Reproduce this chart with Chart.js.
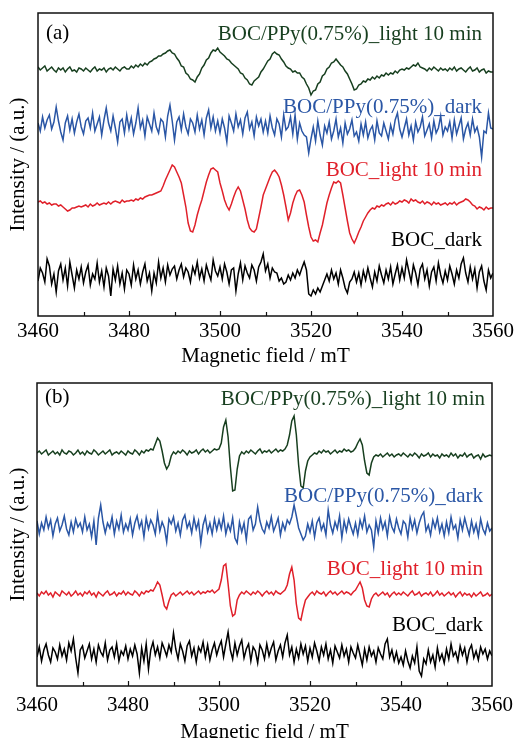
<!DOCTYPE html>
<html><head><meta charset="utf-8">
<script src="https://cdn.jsdelivr.net/npm/chart.js@4.4.1/dist/chart.umd.min.js"></script>
<style>
html,body{margin:0;padding:0;background:#fff;}
#wrap{position:relative;width:520px;height:738px;overflow:hidden;background:#fff;}
canvas{position:absolute;left:0;}
</style></head><body>
<div id="wrap">
<canvas id="ca" width="520" height="369" style="top:0px"></canvas>
<canvas id="cb" width="520" height="376" style="top:369px"></canvas>
</div>
<script>
// Magnetic field grid (mT), uniformly sampled spectrum
const fieldStart = 3460, fieldStep = 0.5, fieldCount = 201;
const field = Array.from({length: fieldCount}, (_, i) => fieldStart + i * fieldStep);
const xTickLabels = [3460, 3480, 3500, 3520, 3540, 3560];
const seriesNames = ['BOC/PPy(0.75%)_light 10 min', 'BOC/PPy(0.75%)_dark', 'BOC_light 10 min', 'BOC_dark'];
const seriesColors = ['#173f1f', '#2a56a5', '#e0202a', '#000000'];
// vertical stacking offsets (a.u.)
const offsetsA = [246, 191, 113, 40];
const offsetsB = [233, 160, 92, 33];

// ---- Panel (a) ----
const aGreen = [
3,0,2,4,-1,1,3,0,-2,2,0,2,-2,1,3,-1,0,-2,2,1,
-1,2,0,-2,1,3,-1,1,0,2,-2,1,2,0,3,1,-1,2,3,1,
1,4,2,5,3,6,4,7,5,8,9,11,12,14,14,16,17,19,20,17,
16,12,9,4,3,-3,-5,-9,-10,-12,-7,-4,2,5,10,12,17,20,19,22,
18,16,14,11,10,7,5,3,1,-3,-4,-8,-10,-14,-15,-11,-9,-7,-2,1,
5,9,11,16,18,16,15,11,8,4,2,1,-2,-1,-3,-3,-7,-9,-14,-18,
-25,-21,-20,-14,-12,-6,-4,1,3,7,8,11,8,5,3,-1,-4,-9,-14,-20,
-19,-15,-14,-11,-12,-9,-10,-7,-9,-6,-8,-5,-6,-3,-5,-3,-4,-1,-3,0,
1,0,2,1,3,5,4,7,3,2,1,-1,2,0,3,1,-1,2,0,1,
-1,2,0,3,-1,1,2,0,-2,1,3,-1,0,2,-2,0,1,-3,-1,-2,
-2];
const aBlue = [
2,-6,8,-3,5,10,-4,3,18,4,-7,-15,2,9,-5,6,-8,3,11,-2,
-9,4,7,-3,12,-6,1,8,-10,5,17,2,-6,9,-3,-17,3,6,-8,10,
-4,7,-9,2,17,-3,5,-11,8,1,-6,12,-2,-8,6,3,-12,9,20,4,
-15,3,8,-5,11,-2,-9,6,2,-7,10,-4,5,-10,7,15,-3,8,-6,4,
-8,6,-3,-17,9,2,-6,11,-2,5,-9,7,13,-4,3,-11,8,-1,6,-7,
4,-8,9,-3,-10,6,1,-12,10,-5,-2,8,-9,10,-14,2,-6,-10,-12,-28,
-14,-2,-16,4,-10,-20,-1,-8,3,-14,-6,6,-12,-3,-18,2,-9,-4,5,-11,
-7,-16,1,-10,3,-13,-5,-1,-15,4,-8,-11,2,-6,-14,0,-9,5,12,-4,
-12,-3,6,-10,-1,-15,3,-7,-2,8,-11,-5,1,-13,4,-8,-3,9,-10,-2,
-6,3,-13,5,-9,-1,7,-14,-4,2,-10,6,-7,-2,-12,-32,-6,-8,12,-3,
-4];
const aRed = [
1,2,0,1,-1,0,-2,-1,-1,-3,-2,-4,-6,-8,-7,-5,-5,-4,-3,-4,
-3,-2,-4,-1,-3,-2,0,-2,-1,0,-1,1,-1,1,2,1,0,3,1,2,
2,3,2,4,3,5,4,6,7,8,8,9,10,11,12,17,23,28,33,38,
36,31,26,20,8,-4,-20,-28,-29,-22,-12,-4,3,12,21,28,34,35,33,31,
20,12,3,-3,-7,-1,6,12,16,12,3,-6,-17,-25,-28,-29,-26,-15,-4,8,
14,20,26,31,33,30,26,18,8,-4,-17,-10,0,7,12,13,8,1,-12,-24,
-34,-38,-37,-39,-30,-22,-11,0,8,15,21,20,22,20,8,-5,-18,-30,-36,-40,
-35,-29,-24,-18,-14,-10,-7,-5,-6,-3,-4,-2,-3,-1,0,-2,1,-1,0,2,
1,3,2,0,4,2,3,1,0,2,-1,1,0,-2,1,-1,0,-2,-1,0,
-2,0,-1,1,-2,0,1,2,4,3,1,-2,-3,-6,-4,-5,-7,-4,-6,-5,
-5];
const aBlack = [
-5,8,3,-6,17,10,-8,2,-16,5,12,-4,8,-10,14,1,-12,6,-3,9,
-7,4,11,-9,2,-3,13,-6,5,-11,8,0,-20,7,-4,10,-8,3,-13,6,
2,-9,11,-3,6,-8,4,12,-5,3,-15,3,-7,14,-2,8,-6,11,1,7,
10,-3,6,12,-1,8,4,-6,9,2,14,-2,7,-5,11,3,-4,16,5,0,
9,-3,12,4,-8,6,8,-15,2,13,-4,10,3,-2,11,6,-5,9,14,22,
5,12,-2,8,4,3,-5,-2,-8,-6,1,-4,3,-2,6,1,8,14,6,-18,
-20,-14,-18,-12,-16,-10,-4,2,-5,6,-3,3,-8,6,-2,-12,-17,-6,-3,4,
-6,3,-9,5,-4,8,-2,-11,4,-5,10,1,-7,6,-3,9,-8,2,11,-4,
8,-2,16,5,-6,11,3,-9,7,12,-3,6,-10,4,9,-5,13,1,-7,5,
-4,10,2,-8,6,-2,12,18,3,-6,9,-3,7,-12,4,10,-5,-14,6,-2,
3];

// ---- Panel (b) ----
const bGreen = [
0,2,-1,1,3,-2,0,2,-1,1,-2,3,0,-1,2,1,-2,0,3,-1,
1,-2,2,0,-1,3,1,-2,0,2,-1,1,3,-2,0,1,-1,2,0,-2,
2,0,-1,3,1,-2,2,0,3,2,4,3,9,15,12,2,-10,-16,-12,-3,
1,-1,2,0,3,1,-2,2,0,1,3,-1,2,4,1,3,0,2,4,3,
4,10,26,33,16,-14,-38,-37,-16,-3,1,-1,2,0,3,1,-1,2,4,0,
2,1,3,0,2,4,1,3,2,4,8,18,32,37,18,-12,-33,-35,-18,-8,
-4,-2,0,-1,2,0,3,1,2,-1,1,3,0,2,1,4,2,3,1,2,
5,10,14,8,-8,-20,-22,-10,-4,-2,-3,-1,-4,-2,0,-3,-1,-4,-2,-1,
-3,0,-2,-4,-1,-3,0,-2,-5,-1,-3,-2,0,-4,-1,-3,-2,-5,-1,-3,
-2,-4,0,-3,-1,-5,-2,-3,0,-4,-2,-1,-5,-3,-2,-6,-1,-4,-3,-2,
-3];
const bBlue = [
5,-8,3,-4,9,-2,6,-10,2,8,-5,1,10,-3,-9,4,-6,7,-1,3,
-6,9,-4,2,-11,5,-19,8,21,4,-7,3,-2,9,-8,5,-3,11,-6,2,
-4,7,-9,3,10,-2,5,-11,8,-3,6,1,-8,12,-5,4,-2,-16,7,2,
9,-5,3,-9,6,11,-2,4,-7,8,-3,5,-17,1,9,-6,3,-8,7,-4,
6,-3,10,-8,2,-5,8,-12,-17,4,-6,3,-14,7,10,-4,2,19,5,-3,
-7,4,-2,9,-5,1,8,-9,3,-4,6,2,9,21,10,-2,-8,-14,-10,2,
-6,5,-11,3,8,-4,2,-9,16,1,-7,4,-3,10,-12,5,-5,7,-1,-8,
3,-9,6,-2,10,-6,1,-4,-21,5,-7,8,-3,4,-10,9,-1,-6,7,-2,
-8,5,2,-11,8,-3,6,-7,3,10,14,-5,1,-9,6,-2,8,-6,2,-10,
4,-7,9,-3,1,-12,6,-4,8,-1,-9,5,-6,2,-10,7,-3,-8,3,-5,
-2];
const bRed = [
1,-2,2,0,3,-1,1,-3,2,0,-2,3,1,-1,2,-2,0,3,-1,1,
-2,2,0,3,-1,1,-3,2,0,-2,1,3,-1,0,2,-2,1,0,3,-1,
2,0,-1,3,1,-2,2,0,3,2,4,3,7,12,9,-1,-12,-15,-7,-1,
1,-2,0,2,-1,1,3,0,2,-1,1,3,0,2,1,3,2,4,1,3,
5,14,28,30,10,-12,-22,-20,-6,-1,2,0,3,1,-1,2,0,3,1,-2,
1,3,0,2,-1,3,1,0,2,4,9,20,27,14,-10,-24,-26,-15,-6,-3,
0,2,-1,3,1,0,2,-2,1,3,0,2,-1,1,3,0,2,1,-1,2,
4,8,12,6,-6,-12,-13,-5,-1,1,-2,0,2,-1,1,-3,0,2,-1,1,
-1,2,0,-2,1,3,-1,0,2,-2,0,1,-1,2,-2,0,3,-1,1,-2,
0,2,-1,1,-3,0,2,-2,1,-1,0,-3,1,-2,0,2,-2,-1,1,-2,
0];
const bBlack = [
-4,6,-8,3,9,-2,-9,5,1,-6,8,-3,4,-7,10,2,14,-5,-20,3,
7,-5,2,9,-6,4,-9,8,1,-3,10,-7,3,6,-4,9,-8,2,-2,7,
-6,4,-3,8,-1,-20,5,-8,9,-16,3,11,-2,6,-5,10,4,-3,8,1,
20,4,-6,9,2,-8,7,12,-3,5,-9,6,1,11,-4,8,-7,3,10,-2,
6,12,-4,9,21,3,-6,10,-2,7,13,-5,4,9,-8,6,2,-10,8,3,
-6,9,-3,5,11,-7,2,8,-4,10,18,-2,6,-9,4,-5,9,-1,7,-8,
5,-4,10,2,-8,6,-2,9,-6,3,-10,7,1,-5,8,-3,4,-9,6,0,
-5,8,-2,-12,4,-7,6,-3,2,-9,5,-1,-6,9,14,-4,3,-8,1,-10,
-4,-12,2,-8,-15,-3,-10,6,-18,-23,-6,-11,3,-9,-2,-14,5,-7,-1,-10,
4,-6,9,-3,1,-8,7,-2,5,-9,3,8,-5,2,-7,6,-1,4,-6,2,
-3];

const FONT = 'Liberation Serif';

const frameTicks = {
  id: 'frameTicks',
  afterDatasetsDraw(chart) {
    const {ctx, chartArea: a} = chart;
    const x = chart.scales.x;
    ctx.save();
    ctx.strokeStyle = '#111';
    ctx.lineWidth = 1.5;
    ctx.strokeRect(a.left, a.top, a.right - a.left, a.bottom - a.top);
    ctx.lineWidth = 1.2;
    for (let v = 3470; v < 3560; v += 10) {
      const px = Math.round(x.getPixelForValue(v)) + 0.5;
      const len = (v % 20 === 0) ? 5 : 4;
      ctx.beginPath();
      ctx.moveTo(px, a.bottom);
      ctx.lineTo(px, a.bottom - len);
      ctx.stroke();
    }
    ctx.restore();
  }
};

const textLabels = {
  id: 'textLabels',
  afterDraw(chart, args, opts) {
    const ctx = chart.ctx;
    ctx.save();
    ctx.font = '21px "' + FONT + '"';
    ctx.textBaseline = 'alphabetic';
    (opts.items || []).forEach(it => {
      ctx.fillStyle = it.color;
      ctx.textAlign = it.align;
      ctx.fillText(it.text, it.x, it.y);
    });
    ctx.restore();
  }
};

function makePanel(id, series, offsets, area, items) {
  const datasets = series.map((s, k) => ({
    label: seriesNames[k],
    data: field.map((f, i) => ({x: f, y: offsets[k] + s[i]})),
    borderColor: seriesColors[k],
    borderWidth: 1.5,
    pointRadius: 0,
    fill: false,
    tension: 0
  }));
  return new Chart(document.getElementById(id), {
    type: 'line',
    data: {datasets},
    options: {
      responsive: false,
      animation: false,
      devicePixelRatio: 1,
      layout: {padding: {top: area.top, right: 520 - area.right, left: 0, bottom: 0}},
      plugins: {legend: {display: false}, tooltip: {enabled: false}, textLabels: {items}},
      scales: {
        x: {
          type: 'linear', min: 3460, max: 3560,
          afterBuildTicks: s => { s.ticks = xTickLabels.map(v => ({value: v})); },
          ticks: {font: {family: FONT, size: 21}, color: '#000', padding: area.tickPad, maxRotation: 0, autoSkip: false, callback: v => String(v)},
          grid: {display: false, drawTicks: false},
          border: {display: false},
          title: {display: true, text: 'Magnetic field / mT', font: {family: FONT, size: 21}, color: '#000', padding: {top: 0, bottom: area.titlePad}},
          afterFit: s => { s.height = area.xh; }
        },
        y: {
          min: 0, max: 303,
          ticks: {display: false},
          grid: {display: false, drawTicks: false},
          border: {display: false},
          title: {display: true, text: 'Intensity / (a.u.)', font: {family: FONT, size: 21}, color: '#000', padding: {top: 6, bottom: 0}},
          afterFit: s => { s.width = area.left; }
        }
      }
    },
    plugins: [frameTicks, textLabels]
  });
}

makePanel('ca', [aGreen, aBlue, aRed, aBlack], offsetsA,
  {top: 13, right: 493, left: 38, xh: 53, tickPad: 3, titlePad: 0},
  [
    {text: '(a)', x: 46, y: 39, align: 'left', color: '#000'},
    {text: seriesNames[0], x: 482, y: 39.5, align: 'right', color: seriesColors[0]},
    {text: seriesNames[1], x: 482, y: 112.5, align: 'right', color: seriesColors[1]},
    {text: seriesNames[2], x: 482, y: 176, align: 'right', color: seriesColors[2]},
    {text: seriesNames[3], x: 482, y: 246, align: 'right', color: seriesColors[3]}
  ]);

makePanel('cb', [bGreen, bBlue, bRed, bBlack], offsetsB,
  {top: 14, right: 492, left: 37, xh: 59, tickPad: 7, titlePad: 0},
  [
    {text: '(b)', x: 45, y: 34, align: 'left', color: '#000'},
    {text: seriesNames[0], x: 485, y: 36, align: 'right', color: seriesColors[0]},
    {text: seriesNames[1], x: 483, y: 132.5, align: 'right', color: seriesColors[1]},
    {text: seriesNames[2], x: 483, y: 206, align: 'right', color: seriesColors[2]},
    {text: seriesNames[3], x: 483, y: 261.5, align: 'right', color: seriesColors[3]}
  ]);
</script>
</body></html>
